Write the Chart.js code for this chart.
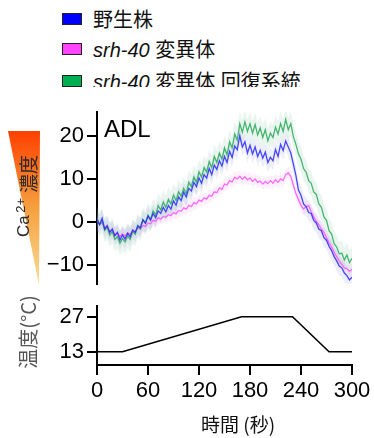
<!DOCTYPE html>
<html>
<head>
<meta charset="utf-8">
<script src="https://cdn.jsdelivr.net/npm/chart.js@4/dist/chart.umd.min.js"></script>
<style>
  html, body { margin: 0; padding: 0; background: #fff; }
  #wrap { position: relative; width: 374px; height: 438px; overflow: hidden; background: #fff; }
  #legend { position: absolute; left: 0; top: 0; width: 374px; height: 87px; overflow: hidden;
            font-family: "Liberation Sans", "Noto Sans CJK JP", sans-serif; font-size: 20px; color: #111; }
  .item { position: absolute; left: 62px; height: 30px; line-height: 30px; white-space: nowrap; }
  .box { position: absolute; left: 0; top: 9px; width: 18px; height: 10px; border: 1.5px solid #222; }
  .lbl { position: absolute; left: 31px; top: 1px; }
  .lbl i { font-style: italic; }
  canvas { position: absolute; left: 0; }
</style>
</head>
<body>
<div id="wrap">
  <div id="legend"></div>
  <canvas id="top" width="374" height="300" style="top:0px;width:374px;height:300px"></canvas>
  <canvas id="bot" width="374" height="148" style="top:290px;width:374px;height:148px"></canvas>
</div>
<script>
// ---------------- DATA ----------------
const timeSec = [0,3,6,9,12,15,18,21,24,27,30,33,36,39,42,45,48,51,54,57,60,63,66,69,72,75,78,81,84,87,90,93,96,99,102,105,108,111,114,117,120,123,126,129,132,135,138,141,144,147,150,153,156,159,162,165,168,171,174,177,180,183,186,189,192,195,198,201,204,207,210,213,216,219,222,225,228,231,234,237,240,243,246,249,252,255,258,261,264,267,270,273,276,279,282,285,288,291,294,297,300];

const seriesNames = ["野生株", "srh-40 変異体", "srh-40 変異体 回復系統"];

const wildType = [0.6,-0.6,0.9,-1.6,-0.8,-2.4,-1.6,-3.2,-2.4,-4.1,-3.0,-3.9,-2.6,-3.4,-1.8,-2.4,-0.9,-1.3,0.5,-0.3,1.4,0.4,2.0,1.0,2.6,2.0,3.4,2.4,3.8,3.0,4.9,3.9,5.8,5.0,6.9,5.8,7.8,7.2,9.2,8.2,10.2,9.0,11.0,10.2,12.4,11.0,13.2,12.2,14.2,13.0,15.2,13.8,16.4,15.0,17.6,16.8,20.0,17.4,18.6,16.0,17.8,15.8,17.4,15.2,16.6,14.8,16.2,13.8,15.0,14.2,16.8,15.2,18.0,16.6,18.8,17.4,16.0,13.4,10.8,7.4,6.2,4.2,3.6,2.2,2.0,0.4,-0.2,-1.6,-2.0,-3.6,-4.2,-5.6,-6.6,-8.0,-9.0,-10.2,-10.6,-11.8,-12.4,-13.4,-12.8];

const mutant = [0.3,-0.5,-0.2,-1.4,-1.0,-2.2,-1.8,-2.9,-2.5,-3.3,-2.8,-3.2,-2.5,-2.8,-2.0,-2.2,-1.4,-1.6,-0.8,-1.0,-0.2,-0.4,0.4,0.2,1.0,0.7,1.3,1.1,1.7,1.5,2.2,1.9,2.7,2.5,3.3,3.0,3.9,3.6,4.5,4.2,5.1,4.8,5.6,5.3,6.2,6.0,7.0,6.8,7.9,7.6,8.8,8.6,9.6,9.3,10.4,10.0,10.6,9.9,10.5,9.8,10.2,9.4,10.0,9.2,9.5,8.8,9.4,8.9,9.6,9.0,9.8,9.2,10.0,9.6,11.0,11.4,10.6,8.6,6.6,5.2,3.8,3.0,3.6,3.8,2.4,1.2,0.2,-0.6,-1.6,-2.4,-3.6,-4.8,-5.8,-7.0,-8.0,-9.0,-9.8,-10.6,-10.8,-11.4,-11.0];

const rescue = [0.9,-0.6,0.3,-1.9,-1.2,-3.0,-2.2,-4.0,-3.4,-4.9,-3.8,-4.6,-3.2,-4.0,-2.2,-2.8,-0.8,-1.6,0.6,-0.2,1.6,0.6,2.6,1.6,3.8,2.8,4.6,3.4,5.2,4.2,6.2,5.0,7.0,6.0,7.8,6.6,9.2,8.2,10.4,9.2,11.6,10.4,12.6,11.6,14.0,12.6,15.2,13.8,16.0,14.6,17.2,15.6,18.6,17.2,20.4,19.0,22.8,20.8,23.2,21.0,22.8,20.6,22.6,20.2,21.8,19.6,21.4,18.8,20.6,19.6,22.0,20.4,22.8,21.0,23.8,21.4,22.8,19.8,18.0,15.8,14.6,12.4,11.6,9.6,9.0,7.0,6.4,4.2,3.4,1.2,0.4,-2.0,-2.8,-5.0,-5.8,-7.4,-7.2,-8.8,-7.6,-9.4,-8.4];

const semWild = 2.2;
const semMutant = 1.4;
const semRescue = 2.8;

const caTicks = [-10, 0, 10, 20];

const tempTimes = [0, 30, 170, 230, 273, 300];
const tempValues = [13, 13, 27, 27, 13, 13];
const tempTicks = [13, 27];
const timeTicks = [0, 60, 120, 180, 240, 300];

// ---------------- STYLE ----------------
const FONT = '"Liberation Sans", "Noto Sans CJK JP", sans-serif';
const CJK = '"Noto Sans CJK JP", "Liberation Sans", sans-serif';
const colWild = 'rgba(40,40,255,0.85)';
const colMut = 'rgba(255,80,255,0.85)';
const colRes = 'rgba(40,170,90,0.85)';
const legendBoxes = ['#0000ff', '#ff44ff', '#00b050'];

// legend (HTML)
const legend = document.getElementById('legend');
const legendHTML = [
  '野生株',
  '<i>srh-40</i> 変異体',
  '<i>srh-40</i> 変異体 回復系統'
];
const legendY = [4, 34, 66];
legendHTML.forEach((h, i) => {
  const d = document.createElement('div');
  d.className = 'item';
  d.style.top = legendY[i] + 'px';
  d.innerHTML = '<span class="box" style="background:' + legendBoxes[i] + '"></span><span class="lbl">' + h + '</span>';
  legend.appendChild(d);
});

function pts(xs, ys, off) {
  return xs.map((x, i) => ({ x: x, y: ys[i] + (off || 0) }));
}
function minus(v) { return String(v).replace('-', '\u2212'); }

function bandPair(vals, sem, color) {
  return [
    { data: pts(timeSec, vals, sem), borderWidth: 0, pointRadius: 0, fill: '+1', backgroundColor: color, order: 10, tension: 0 },
    { data: pts(timeSec, vals, -sem), borderWidth: 0, pointRadius: 0, fill: false, order: 10, tension: 0 }
  ];
}

// plugin: Ca label with gradient triangle + ADL
const topDeco = {
  id: 'topDeco',
  beforeDraw(chart) {
    const c = chart.ctx;
    c.save();
    const g = c.createLinearGradient(0, 131, 0, 285);
    g.addColorStop(0, '#ff4000');
    g.addColorStop(0.5, '#f6a040');
    g.addColorStop(1, '#f7de96');
    c.fillStyle = g;
    c.beginPath();
    c.moveTo(8, 131);
    c.lineTo(40, 131);
    c.lineTo(39, 285);
    c.closePath();
    c.fill();
    // rotated label: Ca²⁺濃度
    c.translate(0, 237);
    c.rotate(-Math.PI / 2);
    c.fillStyle = '#2a2a2a';
    c.textAlign = 'left';
    c.textBaseline = 'alphabetic';
    c.font = '17px ' + FONT;
    c.fillText('Ca', 0, 29);
    const wCa = c.measureText('Ca').width;
    c.font = '13px ' + FONT;
    c.fillText('2+', wCa + 2.5, 25);
    c.font = '19px ' + CJK;
    c.textBaseline = 'middle';
    c.fillText('濃度', 44, 29);
    c.restore();
  },
  afterDraw(chart) {
    const c = chart.ctx;
    c.save();
    c.fillStyle = '#000';
    c.font = '24px ' + FONT;
    c.textBaseline = 'alphabetic';
    c.fillText('ADL', 104, 137);
    c.restore();
  }
};

new Chart(document.getElementById('top'), {
  type: 'line',
  data: {
    datasets: [
      { label: seriesNames[0], data: pts(timeSec, wildType), borderColor: colWild, borderWidth: 1.3, pointRadius: 0, fill: false, order: 0, tension: 0 },
      { label: seriesNames[2], data: pts(timeSec, rescue), borderColor: colRes, borderWidth: 1.3, pointRadius: 0, fill: false, order: 1, tension: 0 },
      { label: seriesNames[1], data: pts(timeSec, mutant), borderColor: colMut, borderWidth: 1.3, pointRadius: 0, fill: false, order: 2, tension: 0 },
      ...bandPair(rescue, semRescue, 'rgba(120,190,150,0.16)'),
      ...bandPair(wildType, semWild, 'rgba(140,140,230,0.16)'),
      ...bandPair(mutant, semMutant, 'rgba(240,150,240,0.14)')
    ]
  },
  options: {
    responsive: false,
    animation: false,
    devicePixelRatio: 1,
    layout: { padding: { left: 0, top: 112, right: 22, bottom: 13 } },
    plugins: { legend: { display: false }, tooltip: { enabled: false } },
    scales: {
      x: { type: 'linear', min: 0, max: 300, display: false },
      y: {
        type: 'linear', min: -14.3, max: 25.5,
        afterFit(s) { s.width = 97; },
        afterBuildTicks(s) { s.ticks = caTicks.map(v => ({ value: v })); },
        border: { display: true, color: '#000', width: 2 },
        grid: { drawOnChartArea: false, color: '#000', lineWidth: 2, tickLength: 10 },
        ticks: { color: '#000', font: { family: FONT, size: 22 }, padding: 3, callback: v => minus(v) }
      }
    }
  },
  plugins: [topDeco]
});

// plugin: temperature label + x title
const botDeco = {
  id: 'botDeco',
  afterDraw(chart) {
    const c = chart.ctx;
    c.save();
    c.translate(28, 42);
    c.rotate(-Math.PI / 2);
    c.fillStyle = '#555';
    c.font = '20px ' + CJK;
    c.textAlign = 'center';
    c.textBaseline = 'middle';
    c.fillText('温度(°C)', 0, 0);
    c.restore();
    c.save();
    c.fillStyle = '#111';
    c.font = '19px ' + CJK;
    c.textAlign = 'center';
    c.textBaseline = 'middle';
    c.fillText('時間 (秒)', 238, 135);
    c.restore();
  }
};

new Chart(document.getElementById('bot'), {
  type: 'line',
  data: {
    datasets: [
      { label: '温度', data: pts(tempTimes, tempValues), borderColor: '#000', borderWidth: 1.6, pointRadius: 0, fill: false, tension: 0 }
    ]
  },
  options: {
    responsive: false,
    animation: false,
    devicePixelRatio: 1,
    layout: { padding: { left: 0, top: 13, right: 22, bottom: 0 } },
    plugins: { legend: { display: false }, tooltip: { enabled: false } },
    scales: {
      x: {
        type: 'linear', min: 0, max: 300,
        afterFit(s) { s.height = 73; },
        afterBuildTicks(s) { s.ticks = timeTicks.map(v => ({ value: v })); },
        border: { display: true, color: '#000', width: 2 },
        grid: { drawOnChartArea: false, color: '#000', lineWidth: 2, tickLength: 10 },
        ticks: { color: '#000', font: { family: FONT, size: 22 }, padding: 3, maxRotation: 0, autoSkip: false }
      },
      y: {
        type: 'linear', min: 7.7, max: 31.2,
        afterFit(s) { s.width = 97; },
        afterBuildTicks(s) { s.ticks = tempTicks.map(v => ({ value: v })); },
        border: { display: true, color: '#000', width: 2 },
        grid: { drawOnChartArea: false, color: '#000', lineWidth: 2, tickLength: 10 },
        ticks: { color: '#000', font: { family: FONT, size: 22 }, padding: 3 }
      }
    }
  },
  plugins: [botDeco]
});
</script>
</body>
</html>
